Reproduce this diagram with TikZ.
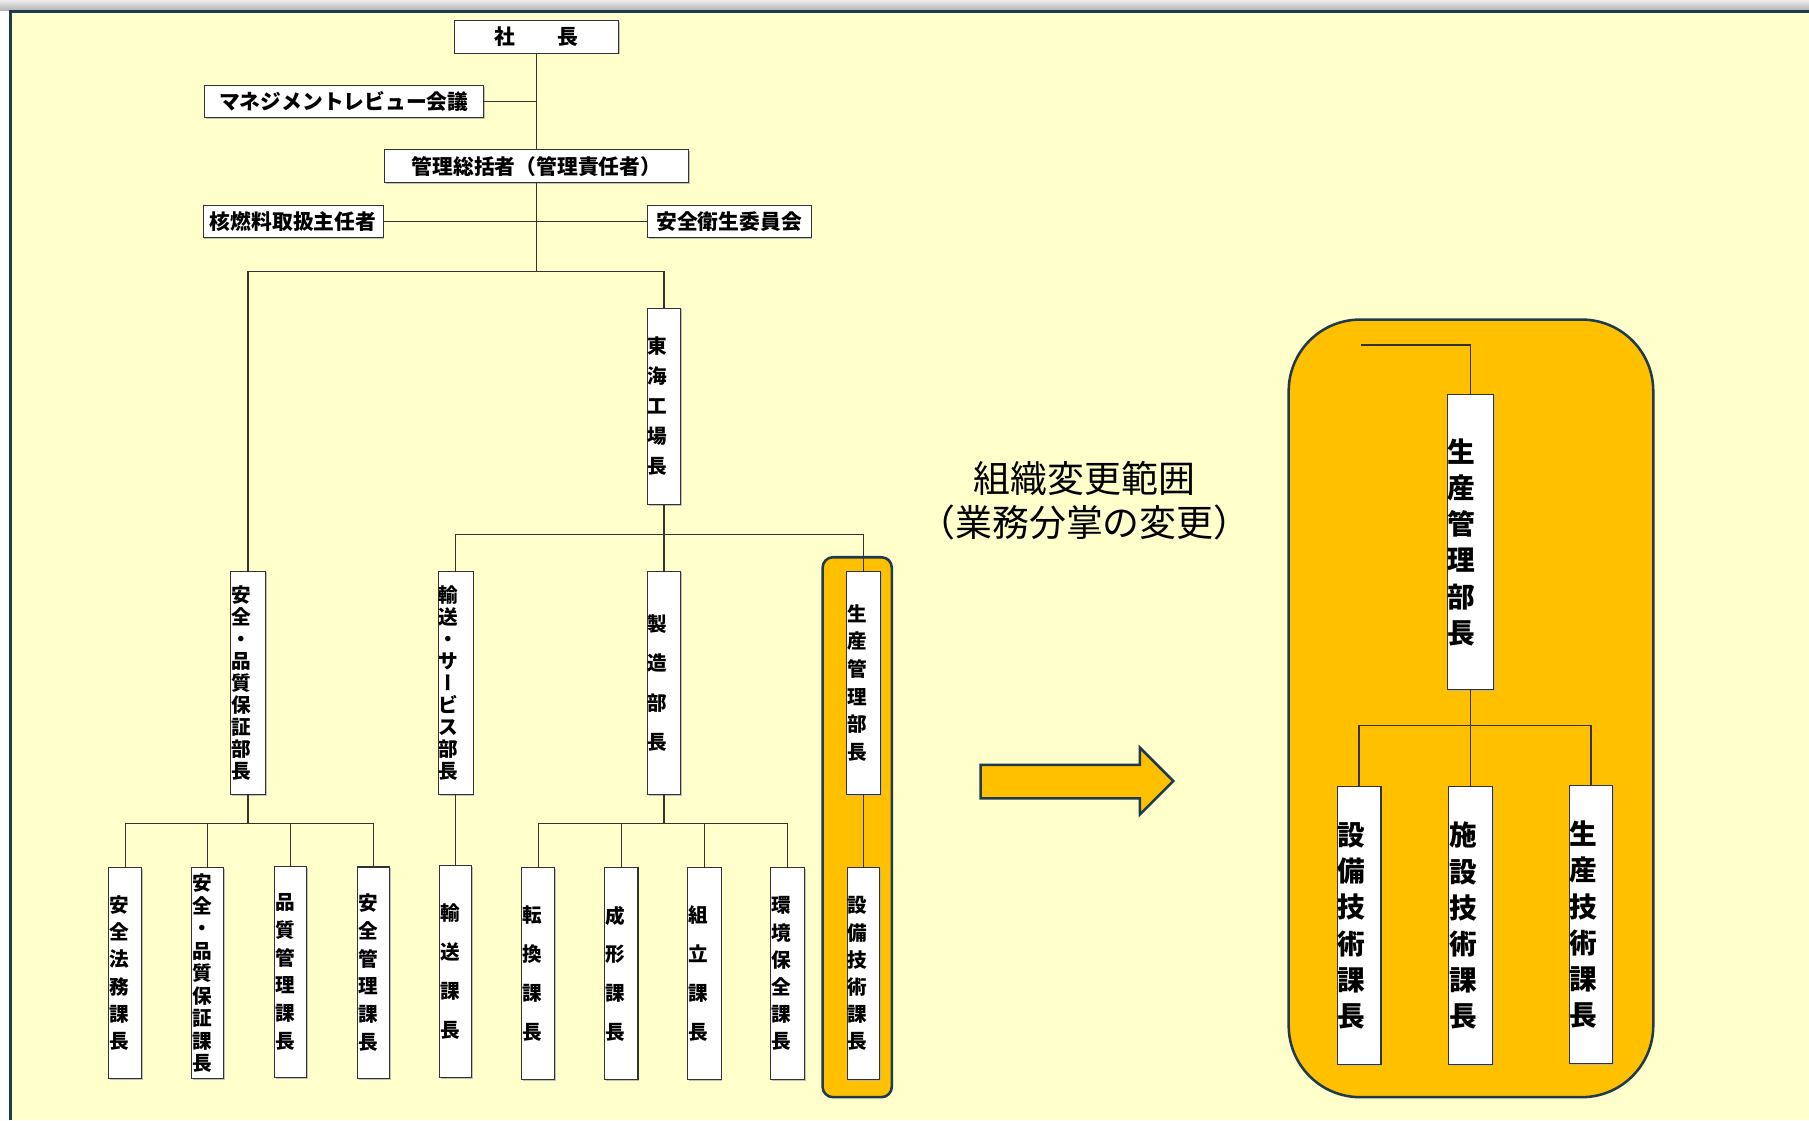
\documentclass[tikz,border=0pt]{standalone}
\usepackage{fontspec}
\setmainfont{Noto Sans CJK JP}
\usetikzlibrary{shadows}
\definecolor{bgy}{HTML}{FFFFCC}
\definecolor{org}{HTML}{FFC000}
\definecolor{dk}{HTML}{1F3A4A}
\definecolor{ln}{HTML}{333333}
\newcommand\vchoon{{\addfontfeatures{RawFeature=+vert}ー}}
\begin{document}
\begin{tikzpicture}[x=1pt,y=-1pt,
  shad/.style={drop shadow={shadow xshift=1.2pt,shadow yshift=-1.2pt,fill=black!30,opacity=0.8}},
  hb/.style={draw=ln, line width=0.9pt, fill=white, inner sep=0pt, shad,
     font=\bfseries\fontsize{18pt}{20pt}\selectfont},
  vb/.style n args={3}{draw=ln, line width=0.9pt, fill=white, inner xsep=0.5pt, inner ysep=0pt,
     align=left, shad, text width=#1pt, minimum height=#2pt,
     font=\bfseries\fontsize{17pt}{#3pt}\selectfont},
  vr/.style n args={2}{draw=ln, line width=0.9pt, fill=white, inner xsep=0.5pt, inner ysep=0pt,
     align=left, shad, text width=#1pt, minimum height=#2pt,
     font=\bfseries\fontsize{24pt}{31.4pt}\selectfont},
  con/.style={draw=ln, line width=1pt}]
\useasboundingbox (0,0) rectangle (1568,971);
% background
\fill[white] (0,0) rectangle (1568,971);
\shade[top color=gray!15, bottom color=gray!60] (0,0) rectangle (1568,9);
\fill[bgy] (9,10) rectangle (1568,971);
\draw[dk, line width=2pt] (9,971) -- (9,10) -- (1568,10);
% highlight areas
\draw[dk, line width=2.2pt, fill=org, rounded corners=9pt] (713,483) rectangle (773,951);
\draw[dk, line width=2.2pt, fill=org, rounded corners=62pt] (1117,277) rectangle (1433,951);
% arrow
\draw[dk, line width=2.2pt, fill=org, line join=miter]
  (850,663) -- (988,663) -- (988,648) -- (1017,677) -- (988,706) -- (988,692) -- (850,692) -- cycle;

% top nodes
\node[hb, minimum width=142pt, minimum height=28pt] (shacho) at (465,32) {社　　長};
\node[hb, minimum width=242pt, minimum height=28pt] (mgmt) at (298,88) {マネジメントレビュー会議};
\node[hb, minimum width=264pt, minimum height=28pt] (kanri) at (465,144) {管理総括者（管理責任者）};
\node[hb, minimum width=156pt, minimum height=28pt] (kaku) at (254,192) {核燃料取扱主任者};
\node[hb, minimum width=142pt, minimum height=28pt] (eisei) at (632,192) {安全衛生委員会};

% vertical nodes
\node[vb={28}{170}{26}] (tokai) at (575.5,352) {東\\海\\工\\場\\長};
\node[vb={29}{194}{19}] (anzen) at (215,592) {安\\全\\・\\品\\質\\保\\証\\部\\長};
\node[vb={29}{194}{19}] (yuso) at (395,592) {輸\\送\\・\\サ\\\vchoon\\ビ\\ス\\部\\長};
\node[vb={28}{194}{34}] (seizo) at (575.5,592) {製\\造\\部\\長};
\node[vb={28}{194}{24}] (seisan) at (748.5,592) {生\\産\\管\\理\\部\\長};

\node[vb={28}{183}{23.6}] (c1) at (108.5,843.5) {安\\全\\法\\務\\課\\長};
\node[vb={27}{183}{19.5}] (c2) at (180,843.5) {安\\全\\・\\品\\質\\保\\証\\課\\長};
\node[vb={27}{183}{24}] (c3) at (252,842.5) {品\\質\\管\\理\\課\\長};
\node[vb={27}{183}{24}] (c4) at (324,843) {安\\全\\管\\理\\課\\長};
\node[vb={27}{184}{34}] (yusoka) at (395,842) {輸\\送\\課\\長};
\node[vb={28}{184}{33.7}] (m1) at (466.5,844) {転\\換\\課\\長};
\node[vb={28}{184}{33.7}] (m2) at (538.5,844) {成\\形\\課\\長};
\node[vb={28}{184}{33.7}] (m3) at (610.5,844) {組\\立\\課\\長};
\node[vb={28}{184}{23.6}] (m4) at (682.5,844) {環\\境\\保\\全\\課\\長};
\node[vb={27}{184}{23.6}] (sL) at (748.5,844) {設\\備\\技\\術\\課\\長};

% right side
\node[vr={39}{256}] (rseisan) at (1274.5,470) {生\\産\\管\\理\\部\\長};
\node[vr={37}{241}] (r1) at (1178,802.5) {設\\備\\技\\術\\課\\長};
\node[vr={37}{241}] (r2) at (1274.5,802.5) {施\\設\\技\\術\\課\\長};
\node[vr={37}{241}] (r3) at (1379,801.5) {生\\産\\技\\術\\課\\長};

\node[font=\fontsize{32pt}{38pt}\selectfont, align=center, inner sep=0pt] (title) at (940,434)
  {組織変更範囲\\（業務分掌の変更）};

% connectors
\coordinate (j1) at (465,235);
\draw[con] (shacho.south) -- (kanri.north);
\draw[con] (mgmt.east) -- (mgmt.east -| shacho.south);
\draw[con] (kanri.south) -- (j1);
\draw[con] (kaku.east) -- (eisei.west);
\draw[con] (anzen.north) |- (j1) -| (tokai.north);
\coordinate (j2) at (575.5,463);
\draw[con] (tokai.south) -- (seizo.north);
\draw[con] (yuso.north) |- (j2) -| (seisan.north);
\draw[con] (yuso.south) -- (yusoka.north);
\coordinate (j3) at (215,714);
\draw[con] (anzen.south) -- (j3);
\draw[con] (c1.north) |- (j3) -| (c4.north);
\draw[con] (c2.north) -- (c2.north |- j3);
\draw[con] (c3.north) -- (c3.north |- j3);
\coordinate (j4) at (575.5,714);
\draw[con] (seizo.south) -- (j4);
\draw[con] (m1.north) |- (j4) -| (m4.north);
\draw[con] (m2.north) -- (m2.north |- j4);
\draw[con] (m3.north) -- (m3.north |- j4);
\draw[con] (seisan.south) -- (sL.north);
\coordinate (rfree) at (1180,299);
\draw[con] (rfree) -| (rseisan.north);
\coordinate (j5) at (1274.5,629);
\draw[con] (rseisan.south) -- (r2.north);
\draw[con] (r1.north) |- (j5) -| (r3.north);
\end{tikzpicture}
\end{document}
